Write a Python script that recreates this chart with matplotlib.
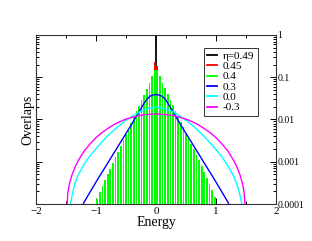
import numpy as np
import matplotlib
matplotlib.use("Agg")
import matplotlib.pyplot as plt
from matplotlib.lines import Line2D
from matplotlib.ticker import FixedLocator, MultipleLocator, LogLocator, NullFormatter

plt.rcParams['font.family'] = ['Liberation Serif', 'DejaVu Serif']

# green bars (eta=0.4): centres and log10 heights
bar_step = 0.0435
bar_k = np.arange(-23, 23)
green_left = [-3.87, -3.72, -3.58, -3.44, -3.30, -3.16, -3.03, -2.89, -2.76, -2.62,
              -2.49, -2.35, -2.22, -2.08, -1.95, -1.81, -1.68, -1.55, -1.41, -1.27,
              -1.14, -0.97, -0.83]
green_right = [-0.83, -0.97, -1.13, -1.26, -1.40, -1.53, -1.66, -1.79, -1.92, -2.05,
               -2.18, -2.31, -2.44, -2.57, -2.70, -2.83, -2.97, -3.10, -3.24, -3.38,
               -3.52, -3.67, -3.84]
green_logh = green_left + green_right

# red bars (eta=0.45), only the centre pokes above the green
red_E = [-0.022, 0.022]
red_logh = [-0.63, -0.74]

# black spike (eta=0.49)
black_E = [0.0]
black_h = [1.0]

# blue curve (eta=0.3)
blue_E = [-1.22, -1.2, -1.1, -1.0, -0.9, -0.8, -0.7, -0.6, -0.5, -0.4, -0.3, -0.2, -0.15, -0.1, -0.05,
          0.0, 0.05, 0.1, 0.15, 0.2, 0.3, 0.4, 0.5, 0.6, 0.7, 0.8, 0.9, 1.0, 1.1, 1.2, 1.22]
blue_logh = [-4.03, -3.96, -3.72, -3.48, -3.25, -3.02, -2.79, -2.56, -2.33, -2.10, -1.86, -1.62, -1.52, -1.45, -1.42,
             -1.41, -1.42, -1.45, -1.51, -1.62, -1.86, -2.10, -2.33, -2.56, -2.79, -3.02, -3.25, -3.48, -3.72, -3.96, -4.03]

# cyan curve (eta=0.0)
cyan_E = [-1.43, -1.4, -1.36, -1.3, -1.2, -1.1, -1.0, -0.9, -0.8, -0.7, -0.6, -0.5, -0.4, -0.3, -0.2, -0.1,
          0.0, 0.1, 0.2, 0.3, 0.4, 0.5, 0.6, 0.7, 0.8, 0.9, 1.0, 1.1, 1.2, 1.3, 1.36, 1.4, 1.44]
cyan_logh = [-4.05, -3.80, -3.55, -3.32, -3.06, -2.86, -2.69, -2.53, -2.38, -2.25, -2.13, -2.02, -1.93, -1.84, -1.77, -1.73,
             -1.71, -1.73, -1.77, -1.83, -1.92, -2.02, -2.13, -2.26, -2.40, -2.55, -2.71, -2.89, -3.10, -3.36, -3.58, -3.80, -4.05]

# magenta curve (eta=-0.3)
mag_E = [-1.49, -1.47, -1.46, -1.44, -1.4, -1.35, -1.3, -1.2, -1.1, -1.0, -0.9, -0.8, -0.7, -0.6, -0.5, -0.4, -0.3, -0.2, -0.1,
         0.0, 0.1, 0.2, 0.3, 0.4, 0.5, 0.6, 0.7, 0.8, 0.9, 1.0, 1.1, 1.2, 1.3, 1.35, 1.4, 1.44, 1.46, 1.47, 1.49]
mag_logh = [-4.2, -3.75, -3.65, -3.51, -3.31, -3.13, -2.98, -2.75, -2.58, -2.43, -2.31, -2.21, -2.12, -2.05, -1.99, -1.95, -1.91, -1.89, -1.875,
            -1.87, -1.875, -1.89, -1.91, -1.95, -1.99, -2.05, -2.12, -2.21, -2.31, -2.43, -2.58, -2.75, -2.98, -3.13, -3.31, -3.51, -3.65, -3.75, -4.2]

labels = ['η=0.49', '0.45', '0.4', '0.3', '0.0', '-0.3']
colors = ['black', '#ff0000', '#00ff00', '#0000ff', '#00ffff', '#ff00ff']

fig = plt.figure(figsize=(3.12, 2.41), dpi=100)
ax = fig.add_axes([0.1154, 0.1535, 0.7692, 0.7013])
ax.set_yscale('log')

bottom = 1e-4
ax.vlines(black_E, bottom, black_h, color=colors[0], lw=1.3, zorder=2)
ax.bar(red_E, 10 ** np.array(red_logh) - bottom, bottom=bottom, width=0.028, color=colors[1], zorder=3)
green_E = (bar_k + 0.5) * bar_step
ax.bar(green_E, 10 ** np.array(green_logh) - bottom, bottom=bottom, width=0.028, color=colors[2], zorder=4)
ax.plot(blue_E, 10 ** np.array(blue_logh), color=colors[3], lw=1.0, zorder=5)
ax.plot(cyan_E, 10 ** np.array(cyan_logh), color=colors[4], lw=1.0, zorder=5)
ax.plot(mag_E, 10 ** np.array(mag_logh), color=colors[5], lw=1.0, zorder=5)

ax.set_xlim(-2, 2)
ax.set_ylim(1e-4, 1)
ax.xaxis.set_major_locator(MultipleLocator(1))
ax.xaxis.set_minor_locator(MultipleLocator(0.5))
ax.yaxis.set_major_locator(FixedLocator([1e-4, 1e-3, 1e-2, 1e-1, 1]))
ax.set_yticklabels(['0.0001', '0.001', '0.01', '0.1', '1'])
ax.yaxis.set_minor_locator(LogLocator(base=10, subs=np.arange(2, 10)))
ax.yaxis.set_minor_formatter(NullFormatter())

ax.tick_params(axis='both', which='both', direction='in', top=True, right=True, width=0.7)
ax.tick_params(axis='both', which='major', length=4)
ax.tick_params(axis='both', which='minor', length=2)
ax.tick_params(axis='x', labelsize=8, pad=2)
ax.tick_params(axis='y', labelleft=False, labelright=True, labelsize=7, pad=1)
for s in ax.spines.values():
    s.set_linewidth(0.8)
    s.set_color('#333333')

ax.set_xlabel('Energy', fontsize=10, labelpad=0)
ax.set_ylabel('Overlaps', fontsize=10, labelpad=-2)

# legend uses short line handles for every set, as in the original
handles = [Line2D([], [], color=c, lw=1.3) for c in colors]
leg = ax.legend(handles, labels, loc='upper left', bbox_to_anchor=(0.7, 0.925), fontsize=8,
                frameon=True, fancybox=False, handlelength=0.9, handletextpad=0.5,
                labelspacing=0.05, borderpad=0.3, borderaxespad=0)
leg.get_frame().set_edgecolor('black')
leg.get_frame().set_linewidth(0.7)

fig.savefig('out.png', dpi=100)
